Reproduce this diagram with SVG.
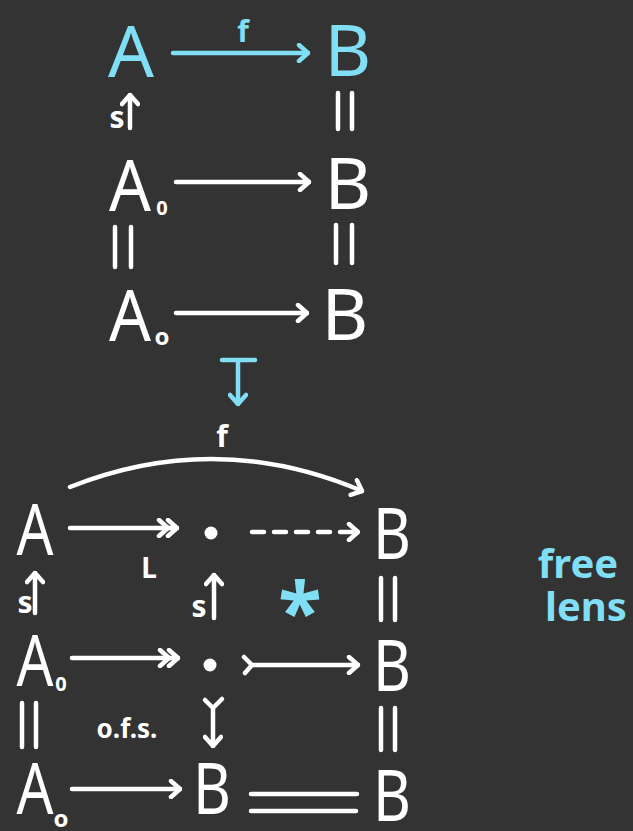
<svg xmlns="http://www.w3.org/2000/svg" width="633" height="831" viewBox="0 0 633 831">
  <style>
    .obj { font-family: "Noto Sans", "Open Sans", sans-serif; font-size: 72px; fill: #ffffff; text-anchor: middle; }
    .sub { font-weight: bold; }
    .lbl { font-family: "Noto Sans", "Open Sans", sans-serif; fill: #ffffff; font-weight: bold; text-anchor: middle; }
    .cyan { fill: #80def5; }
    .ln { fill: none; stroke: #ffffff; stroke-width: 4.5; stroke-linecap: round; stroke-linejoin: round; }
    .lc { fill: none; stroke: #80def5; stroke-width: 4.5; stroke-linecap: round; stroke-linejoin: round; }
  </style>
  <defs>
    <marker id="hw" viewBox="-12 -10 14 20" markerWidth="14" markerHeight="20" refX="0" refY="0" orient="auto" markerUnits="userSpaceOnUse">
      <path d="M-9,-8 L0,0 L-9,8" fill="none" stroke="#ffffff" stroke-width="4.5" stroke-linecap="round" stroke-linejoin="round"/>
    </marker>
    <marker id="hc" viewBox="-12 -10 14 20" markerWidth="14" markerHeight="20" refX="0" refY="0" orient="auto" markerUnits="userSpaceOnUse">
      <path d="M-9,-8 L0,0 L-9,8" fill="none" stroke="#80def5" stroke-width="4.5" stroke-linecap="round" stroke-linejoin="round"/>
    </marker>
    <marker id="h2" viewBox="-22 -10 24 20" markerWidth="24" markerHeight="20" refX="0" refY="0" orient="auto" markerUnits="userSpaceOnUse">
      <path d="M-9,-8 L0,0 L-9,8 M-18,-8 L-9,0 L-18,8" fill="none" stroke="#ffffff" stroke-width="4.5" stroke-linecap="round" stroke-linejoin="round"/>
    </marker>
  </defs>

  <rect width="633" height="831" fill="#333333"/>

  <!-- upper square -->
  <g id="top-A"><text class="obj cyan" x="131" y="77">A</text></g>
  <g id="top-B"><text class="obj cyan" x="348" y="76">B</text></g>
  <g id="mid-A0"><text class="obj" x="130" y="211"><tspan textLength="42" lengthAdjust="spacingAndGlyphs">A</tspan><tspan class="sub" x="162" y="215" font-size="20">0</tspan></text></g>
  <g id="mid-B"><text class="obj" x="348" y="209">B</text></g>
  <g id="low-A0"><text class="obj" x="130" y="341"><tspan textLength="42" lengthAdjust="spacingAndGlyphs">A</tspan><tspan class="sub" x="162" y="345" font-size="24">o</tspan></text></g>
  <g id="low-B"><text class="obj" x="345" y="340">B</text></g>

  <!-- lower diagram -->
  <g id="b-A"><text class="obj" x="35" y="555" textLength="37" lengthAdjust="spacingAndGlyphs">A</text></g>
  <g id="b-dot1"><circle cx="211" cy="533" r="6.5" fill="#ffffff"/></g>
  <g id="b-B1"><text class="obj" x="392" y="559" textLength="38" lengthAdjust="spacingAndGlyphs">B</text></g>
  <g id="b-A0"><text class="obj" x="35" y="686"><tspan textLength="37" lengthAdjust="spacingAndGlyphs">A</tspan><tspan class="sub" x="61" y="691" font-size="20">0</tspan></text></g>
  <g id="b-dot2"><circle cx="210" cy="665" r="6.5" fill="#ffffff"/></g>
  <g id="b-B2"><text class="obj" x="392" y="691" textLength="38" lengthAdjust="spacingAndGlyphs">B</text></g>
  <g id="b-A0b"><text class="obj" x="35" y="814"><tspan textLength="37" lengthAdjust="spacingAndGlyphs">A</tspan><tspan class="sub" x="61" y="827" font-size="24">o</tspan></text></g>
  <g id="b-B3"><text class="obj" x="212" y="814" textLength="38" lengthAdjust="spacingAndGlyphs">B</text></g>
  <g id="b-B4"><text class="obj" x="392" y="821" textLength="38" lengthAdjust="spacingAndGlyphs">B</text></g>

  <!-- labels -->
  <g id="labels">
    <text class="lbl cyan" x="243" y="42" font-size="30">f</text>
    <text class="lbl" x="117" y="128" font-size="30">s</text>
    <text class="lbl" x="222" y="447" font-size="30">f</text>
    <text class="lbl" x="149" y="578" font-size="28">L</text>
    <text class="lbl" x="25" y="613" font-size="30">s</text>
    <text class="lbl" x="199" y="617" font-size="30">s</text>
    <text class="lbl cyan" x="300" y="641" font-size="80" font-weight="normal">*</text>
    <text class="lbl" x="127" y="738" font-size="26">o.f.s.</text>
    <text class="lbl cyan" x="578" y="578" font-size="40">free</text>
    <text class="lbl cyan" x="586" y="621" font-size="40">lens</text>
  </g>

  <!-- arrows and equalities -->
  <g id="connectors">
    <!-- upper square -->
    <path class="lc" d="M173,53 L308,53" marker-end="url(#hc)"/>
    <path class="ln" d="M130,128 L130,95" marker-end="url(#hw)"/>
    <path class="ln" d="M338,93 L338,129 M352,93 L352,129"/>
    <path class="ln" d="M176,182 L309,182" marker-end="url(#hw)"/>
    <path class="ln" d="M115,227 L115,267 M131,227 L131,267"/>
    <path class="ln" d="M336,225 L336,263 M352,225 L352,263"/>
    <path class="ln" d="M176,313 L307,313" marker-end="url(#hw)"/>

    <!-- mapsto between the two diagrams -->
    <path class="lc" d="M222,360 L255,360 M238,360 L238,404" marker-end="url(#hc)"/>

    <!-- lower diagram -->
    <path class="ln" d="M70,487 Q216,429 362,491" marker-end="url(#hw)"/>
    <path class="ln" d="M70,528 L177,528" marker-end="url(#h2)"/>
    <path class="ln" d="M252,532 L358,532" stroke-dasharray="12 10" marker-end="url(#hw)"/>
    <path class="ln" d="M35,613 L35,573" marker-end="url(#hw)"/>
    <path class="ln" d="M214,618 L214,575" marker-end="url(#hw)"/>
    <path class="ln" d="M381,578 L381,620 M395,578 L395,620"/>
    <path class="ln" d="M72,658 L178,658" marker-end="url(#h2)"/>
    <path class="ln" d="M244,657 L252,665 L245,673 M252,665 L358,665" marker-end="url(#hw)"/>
    <path class="ln" d="M22,703 L22,747 M36,703 L36,747"/>
    <path class="ln" d="M205,700 L213,708 L222,699 M213,708 L213,746" marker-end="url(#hw)"/>
    <path class="ln" d="M381,708 L381,750 M395,708 L395,750"/>
    <path class="ln" d="M72,789 L180,789" marker-end="url(#hw)"/>
    <path class="ln" d="M251,794 L357,794 M251,811 L356,811"/>
  </g>
</svg>
